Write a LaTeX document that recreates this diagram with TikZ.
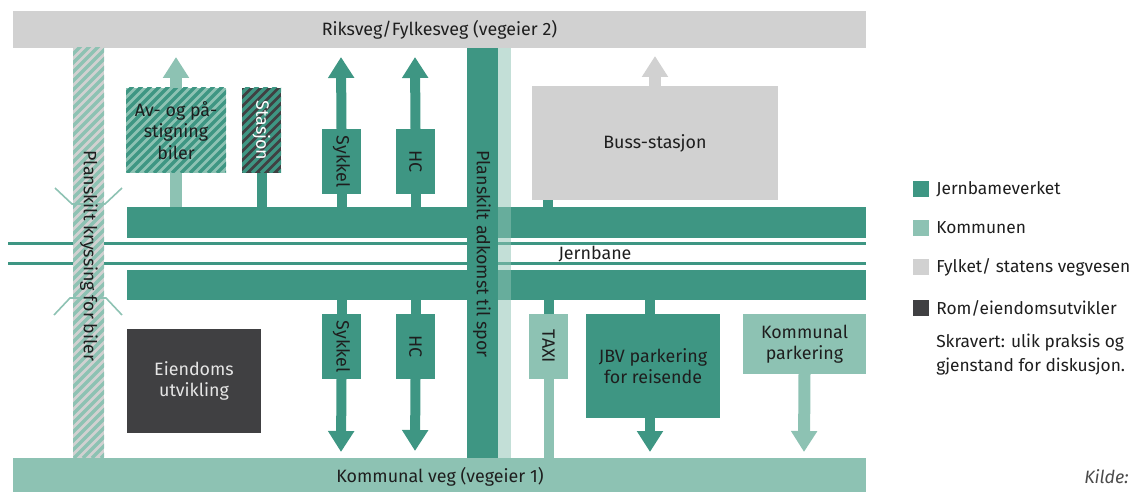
\documentclass[tikz,border=0pt]{standalone}
\usepackage{fontspec}
\setmainfont{Fira Sans}
\usetikzlibrary{arrows.meta,calc}
\definecolor{jbv}{HTML}{3E9683}
\definecolor{kom}{HTML}{8DC2B3}
\definecolor{fyl}{HTML}{D1D1D1}
\definecolor{rom}{HTML}{404042}
\definecolor{txt}{HTML}{1E1E1E}
\newcommand\bx[7]{\node[boxst,#6,minimum width={(#4-#2)*0.75pt},minimum height={(#5-#3)*0.75pt}] (#1) at ({(#2+#4)/2},{(#3+#5)/2}) {#7};}
\begin{document}
\begin{tikzpicture}[x=0.75pt,y=-0.75pt,
  font=\fontsize{13.4}{16}\selectfont, text=txt,
  boxst/.style={rectangle,draw=none,inner sep=0pt,outer sep=0pt,align=center},
  hatchst/.style 2 args={fill=#1,path picture={
     \foreach \i in {-440,-431,...,160}{
       \draw[#2,line width=2.5pt] ($(path picture bounding box.south west)+(\i,0)$) -- ++(600,-600);}}},
  lbl/.style={inner sep=0pt,text=txt},
  vlbl/.style={inner sep=0pt,text=txt,rotate=-90},
  jsh/.style={draw=jbv,line width=7.5pt},
  ksh/.style={draw=kom,line width=9pt},
  tipK/.style={-{Triangle[length=15.75pt,width=18.75pt]}},
  rail/.style={draw=jbv,line width=2pt},
  bridge/.style={draw=kom,line width=1.2pt},
  leg/.style={anchor=west,inner sep=0pt,text=txt,font=\fontsize{13}{18}\selectfont}]
\useasboundingbox (0,0) rectangle (1133,492);

% roads
\bx{top}{13}{11}{866}{48}{fill=fyl}{Riksveg/Fylkesveg (vegeier 2)}
\bx{bot}{13}{458}{866}{497}{fill=kom}{}
\node[lbl] (botlbl) at (440,477) {Kommunal veg (vegeier 1)};

% platforms
\bx{bandU}{127}{207}{866}{238}{fill=jbv}{}
\bx{bandL}{127}{270}{866}{300}{fill=jbv}{}

% rails
\coordinate (r1a) at (8,243.8); \coordinate (r1b) at (866,243.8);
\coordinate (r2a) at (8,263.4); \coordinate (r2b) at (866,263.4);
\draw[rail] (r1a) -- (r1b);
\draw[rail] (r2a) -- (r2b);
\node[lbl] (jern) at (595,254) {Jernbane};

% upper boxes
\bx{avog}{126}{88}{226}{173}{hatchst={kom}{jbv}}{Av- og på-\\stigning\\biler}
\bx{stasjon}{242}{88}{281}{173}{hatchst={rom}{jbv}}{}
\node[vlbl,text=white] (stasjonT) at (stasjon) {Stasjon};
\bx{sykU}{322}{129}{361}{194}{fill=jbv}{}
\node[vlbl] (sykUT) at (sykU) {Sykkel};
\bx{hcU}{396}{129}{435}{194}{fill=jbv}{}
\node[vlbl] (hcUT) at (hcU) {HC};
\bx{buss}{532}{86}{778}{200}{fill=fyl}{Buss-stasjon}

\coordinate (avTip) at (176,57);
\coordinate (sykUTip) at (341,57);
\coordinate (hcUTip) at (415,57);
\coordinate (bussTip) at (655,56);
\draw[ksh,tipK] (avog.north) -- (avTip);
\draw[ksh] (avog.south) -- (avog.south |- bandU.north);
\draw[jsh] (stasjon.south) -- (stasjon.south |- bandU.north);
\draw[jsh,tipK] (sykU.north) -- (sykUTip);
\draw[jsh] (sykU.south) -- (sykU.south |- bandU.north);
\draw[jsh,tipK] (hcU.north) -- (hcUTip);
\draw[jsh] (hcU.south) -- (hcU.south |- bandU.north);
\draw[draw=fyl,line width=9pt,tipK] (buss.north) -- (bussTip);
\draw[jsh] ([xshift=12pt]buss.south west) -- ([xshift=12pt]buss.south west |- bandU.north);

% lower boxes
\bx{eiend}{127}{329}{261}{433}{fill=rom,text=white!90!black}{Eiendoms\\utvikling}
\bx{sykL}{322}{314}{361}{379}{fill=jbv}{}
\node[vlbl] (sykLT) at (sykL) {Sykkel};
\bx{hcL}{396}{314}{435}{379}{fill=jbv}{}
\node[vlbl] (hcLT) at (hcL) {HC};
\bx{taxi}{529}{314}{568}{379}{fill=kom}{}
\node[vlbl] (taxiT) at (taxi) {TAXI};
\bx{jbvp}{586}{314}{720}{418}{fill=jbv}{JBV parkering\\for reisende};
\bx{kpark}{743}{314}{866}{374}{fill=kom}{Kommunal\\parkering}

\coordinate (sykLTip) at (341,452);
\coordinate (hcLTip) at (415,451);
\coordinate (jbvTip) at (650,452);
\coordinate (kpTip) at (804,452);
\draw[jsh] (sykL.north) -- (sykL.north |- bandL.south);
\draw[jsh,tipK] (sykL.south) -- (sykLTip);
\draw[jsh] (hcL.north) -- (hcL.north |- bandL.south);
\draw[jsh,tipK] (hcL.south) -- (hcLTip);
\draw[jsh] (taxi.north) -- (taxi.north |- bandL.south);
\draw[jsh,draw=kom] (taxi.south) -- (taxi.south |- bot.north);
\draw[jsh] ([xshift=-2.25pt]jbvp.north) -- ([xshift=-2.25pt]jbvp.north |- bandL.south);
\draw[jsh,tipK] ([xshift=-2.25pt]jbvp.south) -- (jbvTip);
\draw[ksh,tipK] (kpark.south) -- (kpTip);

% vertical crossings
\bx{kryss}{73}{48}{104}{458}{hatchst={fyl}{kom}}{}
\bx{adk}{467}{48}{498}{458}{fill=jbv}{}
\bx{adkL}{498}{48}{511}{458}{fill=kom,fill opacity=0.53}{}
\node[vlbl] (adkT) at (482,254) {Planskilt adkomst til spor};

% bridge marks
\coordinate (b1) at (55,188); \coordinate (b2) at (72,204);
\coordinate (b3) at (105,204); \coordinate (b4) at (122,188);
\coordinate (b5) at (54,315); \coordinate (b6) at (70,298);
\coordinate (b7) at (106,298); \coordinate (b8) at (122,315);
\draw[bridge] (b1) -- (b2) -- (b3) -- (b4);
\draw[bridge] (b5) -- (b6) -- (b7) -- (b8);
\node[vlbl] (kryssT) at (89,256) {Planskilt kryssing for biler};

% legend
\bx{lg1}{913}{181}{929}{197}{fill=jbv}{}
\bx{lg2}{913}{220}{929}{236}{fill=kom}{}
\bx{lg3}{913}{259}{929}{275}{fill=fyl}{}
\bx{lg4}{913}{300}{929}{316}{fill=rom}{}
\node[leg] (lt1) at (936,189) {Jernbameverket};
\node[leg] (lt2) at (936,228) {Kommunen};
\node[leg] (lt3) at (936,267) {Fylket/ statens vegvesen};
\node[leg] (lt4) at (936,308) {Rom/eiendomsutvikler};
\node[leg,align=left] (lt5) at (936,355) {Skravert: ulik praksis og\\gjenstand for diskusjon.};
\node[anchor=east,inner sep=0pt,text=txt!80,font=\fontsize{13.4}{16}\selectfont\itshape] (kilde) at (1129,477) {Kilde:};
\end{tikzpicture}
\end{document}
